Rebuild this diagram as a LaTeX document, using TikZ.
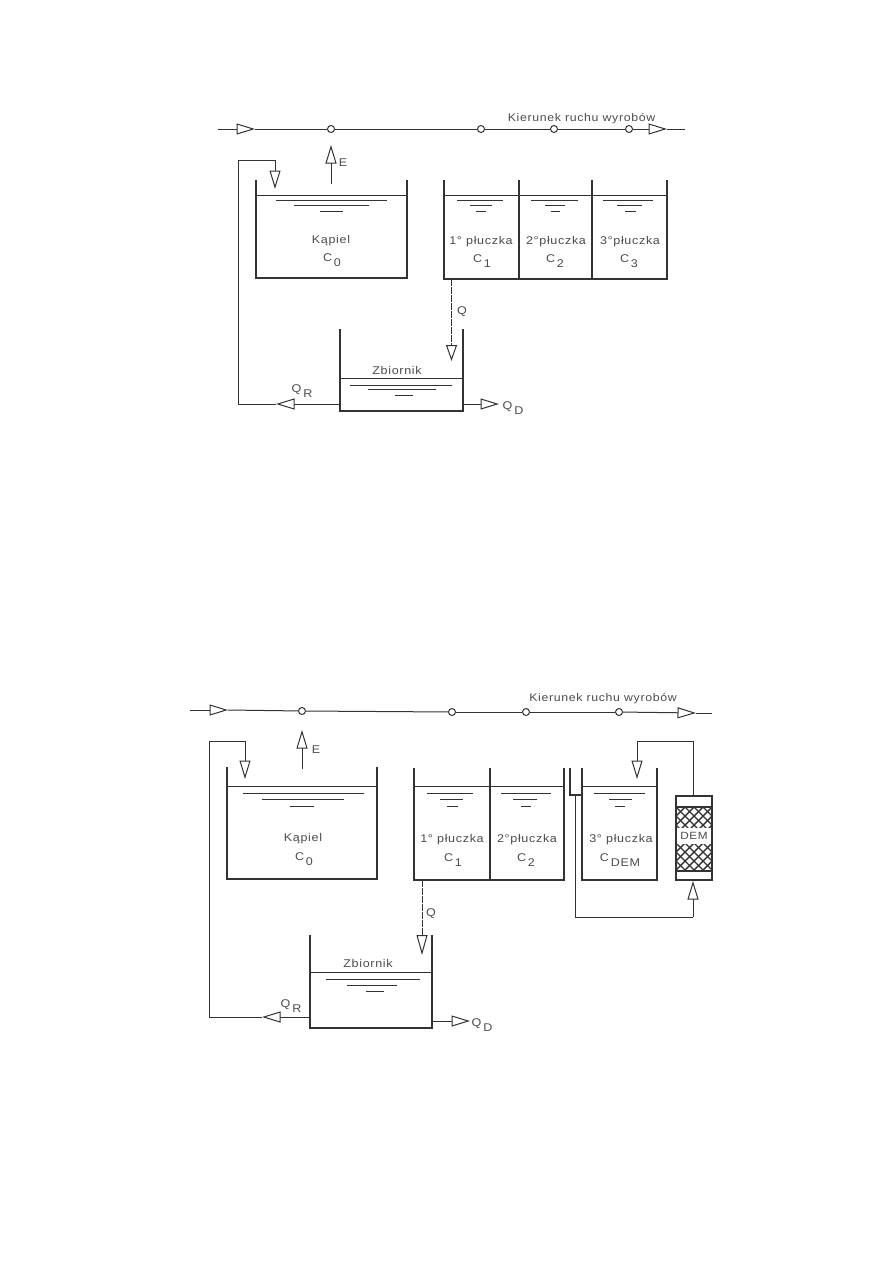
\documentclass[tikz,border=0pt]{standalone}
\usepackage{fontspec}
\setmainfont[FakeStretch=1.12,LetterSpace=6]{Liberation Sans}
\usetikzlibrary{arrows.meta}
\definecolor{ink}{gray}{0.2}
\definecolor{lettering}{gray}{0.3}
\tikzset{
  wall/.style={draw=ink,line width=1.2pt},
  pipe/.style={draw=ink,line width=1pt},
  surface/.style={draw=ink,line width=0.9pt},
  ripple/.style={draw=ink,line width=0.8pt},
  flow/.style={pipe,-{Triangle[open,length=18.5pt,width=11pt,line width=1pt]}},
  qline/.style={pipe,dash pattern=on 7pt off 1pt},
  station/.style={circle,draw=ink,fill=white,line width=1pt,minimum size=7pt,inner sep=0pt},
  lbl/.style={text=lettering,inner sep=0pt,font=\fontsize{11.2}{13}\selectfont},
  headlbl/.style={text=lettering,inner sep=0pt,font=\fontsize{11}{13}\selectfont},
}
% open tank: left x, right x, rim y, bottom y
\newcommand{\opentank}[4]{\draw[wall] (#1,#3) -- (#1,#4) -- (#2,#4) -- (#2,#3);}
% three shrinking ripples beneath a surface
\newcommand{\ripples}[9]{%
  \draw[ripple] (#1,#3) -- (#2,#3);
  \draw[ripple] (#4,#6) -- (#5,#6);
  \draw[ripple] (#7,#9) -- (#8,#9);}
% symbol with a full-size lowered index, as in drafting stencils
\newcommand{\idx}[2]{#1\raisebox{-4.5pt}{\,#2}}
\begin{document}
\begin{tikzpicture}[x=1pt,y=-1pt]
\useasboundingbox (0,0) rectangle (893,1263);
\fill[white] (0,0) rectangle (893,1263);

% ---------- upper scheme: three-stage rinse with return to the bath ----------
\node[station] (a0) at (331,129) {};
\node[station] (a1) at (481,129) {};
\node[station] (a2) at (554,129) {};
\node[station] (a3) at (629,129) {};
\coordinate (aL) at (218,129);
\coordinate (aR) at (685,129);
\coordinate (aIn) at (255,129);
\coordinate (aOut) at (667,129);
\draw[flow] (aL) -- (aIn);
\draw[pipe] (aIn) -- (a0);
\draw[pipe] (a0) -- (a1);
\draw[pipe] (a1) -- (a2);
\draw[pipe] (a2) -- (a3);
\draw[flow] (a3) -- (aOut);
\draw[pipe] (aOut) -- (aR);
\node[headlbl,anchor=base] (aHead) at (581.5,121) {Kierunek ruchu wyrobów};

\coordinate (aEbase) at (331,184);
\coordinate (aEtip) at (331,145);
\draw[flow] (aEbase) -- (aEtip);
\node[lbl] (aE) at (343,163) {E};

% bath
\opentank{256}{407}{180}{278}
\draw[surface] (256,195) -- (407,195);
\ripples{276}{387}{200}{294}{369}{205}{320}{343}{211}
\node[lbl] (aBath) at (331,241) {Kąpiel};
\node[lbl] (aC0) at (332,260) {\idx{C}{0}};

% rinse tanks
\opentank{444}{667}{180}{279}
\draw[wall] (519,180) -- (519,279);
\draw[wall] (592,180) -- (592,279);
\draw[surface] (444,195) -- (667,195);
\ripples{457}{503}{200}{470}{492}{205}{476}{486}{211}
\ripples{531}{578}{200}{545}{565}{205}{551}{560}{211}
\ripples{603}{653}{200}{617}{642}{205}{625}{636}{211}
\node[lbl] (aR1) at (481,242) {1° płuczka};
\node[lbl] (aR2) at (556,242) {2°płuczka};
\node[lbl] (aR3) at (630,242) {3°płuczka};
\node[lbl] (aC1) at (482,261) {\idx{C}{1}};
\node[lbl] (aC2) at (555,261) {\idx{C}{2}};
\node[lbl] (aC3) at (629,261) {\idx{C}{3}};

% collecting tank
\opentank{340}{463}{329}{411}
\draw[surface] (340,378) -- (463,378);
\ripples{350}{452}{385}{368}{436}{389}{395}{413}{395}
\node[lbl] (aTank) at (397,370) {Zbiornik};

% overflow from the rinse to the collecting tank
\coordinate (aQtop) at (451.5,279);
\coordinate (aQtip) at (451.5,361);
\draw[qline,-{Triangle[open,length=16pt,width=11pt,line width=1pt]}] (aQtop) -- (aQtip);
\node[lbl] (aQ) at (462,312) {Q};

% return line to the bath
\coordinate (aRetS) at (340,404);
\coordinate (aRetTip) at (276,404);
\coordinate (aRetC) at (238,404);
\coordinate (aRetT) at (238,160);
\coordinate (aRetE) at (275,160);
\coordinate (aRetDown) at (275,189);
\draw[flow] (aRetS) -- (aRetTip);
\draw[pipe] (aRetTip) -- (aRetC) -- (aRetT) -- (aRetE);
\draw[flow] (aRetE) -- (aRetDown);
\node[lbl] (aQR) at (302,391) {\idx{Q}{R}};

% discharge
\coordinate (aDs) at (463,404);
\coordinate (aDt) at (499,404);
\draw[flow] (aDs) -- (aDt);
\node[lbl] (aQD) at (513,408) {\idx{Q}{D}};

% ---------- lower scheme: third rinse with ion-exchange column ----------
\node[station] (b0) at (302,711) {};
\node[station] (b1) at (452,712) {};
\node[station] (b2) at (526,712) {};
\node[station] (b3) at (619,712) {};
\coordinate (bL) at (190,710);
\coordinate (bR) at (712,713);
\coordinate (bIn) at (228,710);
\coordinate (bOut) at (696,713);
\draw[flow] (bL) -- (bIn);
\draw[pipe] (bIn) -- (b0);
\draw[pipe] (b0) -- (b1);
\draw[pipe] (b1) -- (b2);
\draw[pipe] (b2) -- (b3);
\draw[flow] (b3) -- (bOut);
\draw[pipe] (bOut) -- (bR);
\node[headlbl,anchor=base] (bHead) at (603,701) {Kierunek ruchu wyrobów};

\coordinate (bEbase) at (302,769);
\coordinate (bEtip) at (302,730);
\draw[flow] (bEbase) -- (bEtip);
\node[lbl] (bE) at (316,750) {E};

% bath
\opentank{227}{377}{767}{879}
\draw[surface] (227,786) -- (377,786);
\ripples{243}{364}{793}{262}{344}{799}{290}{314}{806}
\node[lbl] (bBath) at (303,839) {Kąpiel};
\node[lbl] (bC0) at (304,859) {\idx{C}{0}};

% first and second rinse
\opentank{414}{564}{768}{880}
\draw[wall] (490,768) -- (490,880);
\draw[surface] (414,786) -- (564,786);
\ripples{427}{473}{793}{440}{463}{799}{447}{458}{806}
\ripples{501}{551}{793}{513}{537}{799}{521}{531}{806}
\node[lbl] (bR1) at (452,840) {1° płuczka};
\node[lbl] (bR2) at (527,840) {2°płuczka};
\node[lbl] (bC1) at (453,860) {\idx{C}{1}};
\node[lbl] (bC2) at (526,860) {\idx{C}{2}};

% third rinse with overflow weir
\opentank{582}{657}{768}{880}
\draw[wall] (570,768) -- (570,795) -- (582,795);
\draw[surface] (582,786) -- (657,786);
\ripples{594}{645}{793}{609}{632}{799}{615}{625}{806}
\node[lbl] (bR3) at (621,840) {3° płuczka};
\node[lbl] (bC3) at (620,860) {\idx{C}{DEM}};

% ion-exchange column with its resin bed
\begin{scope}
  \clip (676,807) rectangle (712,871);
  \foreach \s in {-81,-72,...,117} {
    \draw[ink,line width=1.4pt] (676+\s,807) -- ++(70,70);
    \draw[ink,line width=1.4pt] (712-\s,807) -- ++(-70,70);
  }
\end{scope}
\node[fill=white,minimum width=35pt,minimum height=16pt,inner sep=0pt] (bBand) at (694,835.5) {};
\draw[wall] (676,796) rectangle (712,880);
\draw[wall,line width=1.6pt] (676,807) -- (712,807);
\draw[wall,line width=1.6pt] (676,871) -- (712,871);
\node[lbl,font=\fontsize{10.5}{12}\selectfont] (bDem) at (694,836) {DEM};

% demineraliser loop
\coordinate (bLoopS) at (575,795);
\coordinate (bLoopC) at (575,917);
\coordinate (bLoopR) at (693,917);
\coordinate (bLoopTip) at (693,881);
\draw[pipe] (bLoopS) -- (bLoopC) -- (bLoopR);
\draw[flow] (bLoopR) -- (bLoopTip);
\coordinate (bTopS) at (693,796);
\coordinate (bTopC) at (693,741);
\coordinate (bTopE) at (637,741);
\coordinate (bTopTip) at (637,779);
\draw[pipe] (bTopS) -- (bTopC) -- (bTopE);
\draw[flow] (bTopE) -- (bTopTip);

% collecting tank
\opentank{310}{432}{935}{1028}
\draw[surface] (310,972) -- (432,972);
\ripples{326}{420}{979}{347}{397}{985}{366}{384}{991}
\node[lbl] (bTank) at (368,963) {Zbiornik};

% overflow to the collecting tank
\coordinate (bQtop) at (422,880);
\coordinate (bQtip) at (422,955);
\draw[qline,-{Triangle[open,length=20pt,width=11pt,line width=1pt]}] (bQtop) -- (bQtip);
\node[lbl] (bQ) at (431,914) {Q};

% return line to the bath
\coordinate (bRetS) at (310,1017);
\coordinate (bRetTip) at (262,1017);
\coordinate (bRetC) at (209,1017);
\coordinate (bRetT) at (209,741);
\coordinate (bRetE) at (245,741);
\coordinate (bRetDown) at (245,779);
\draw[flow] (bRetS) -- (bRetTip);
\draw[pipe] (bRetTip) -- (bRetC) -- (bRetT) -- (bRetE);
\draw[flow] (bRetE) -- (bRetDown);
\node[lbl] (bQR) at (291,1006) {\idx{Q}{R}};

% discharge
\coordinate (bDs) at (432,1021);
\coordinate (bDt) at (470,1021);
\draw[flow] (bDs) -- (bDt);
\node[lbl] (bQD) at (482,1025) {\idx{Q}{D}};
\end{tikzpicture}
\end{document}
